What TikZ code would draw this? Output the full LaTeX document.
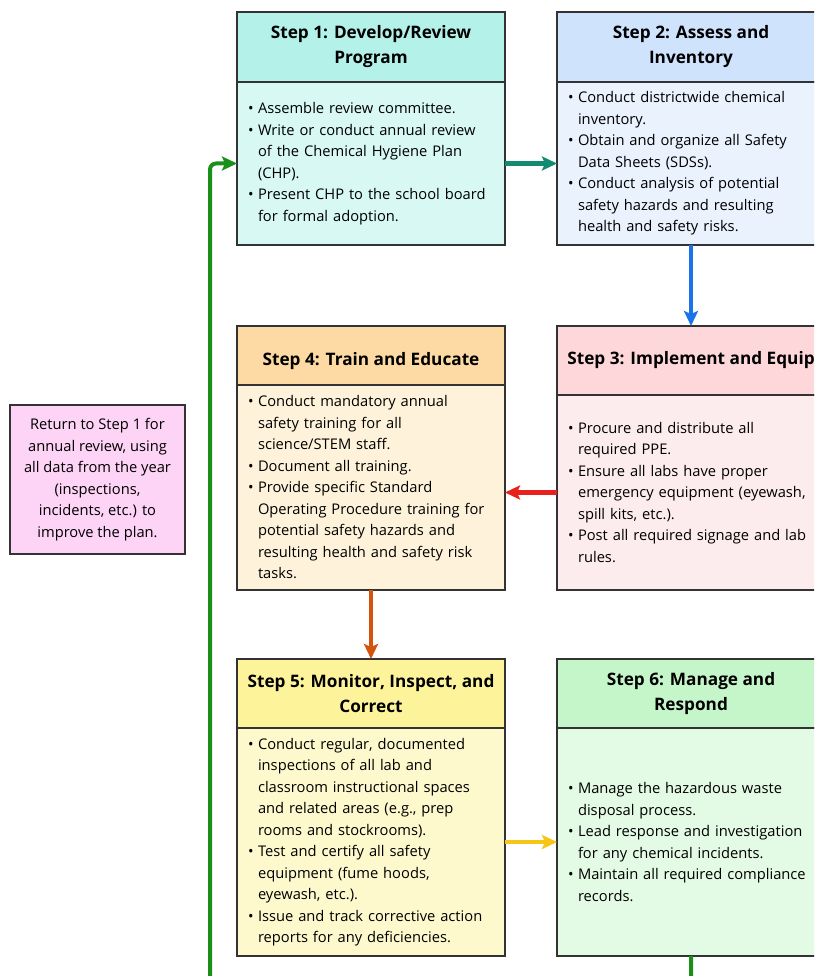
\documentclass[tikz,border=0pt]{standalone}
\usepackage{fontspec}
\setmainfont{Open Sans}
\usetikzlibrary{arrows.meta,positioning}

\definecolor{edge}{HTML}{333333}
\definecolor{hone}{HTML}{B3F1E9}  \definecolor{bone}{HTML}{D7F8F3}
\definecolor{htwo}{HTML}{CFE3FD}  \definecolor{btwo}{HTML}{EAF2FE}
\definecolor{hthree}{HTML}{FDD7D9}\definecolor{bthree}{HTML}{FDECED}
\definecolor{hfour}{HTML}{FDDAA3} \definecolor{bfour}{HTML}{FEF3DA}
\definecolor{hfive}{HTML}{FDF39B} \definecolor{bfive}{HTML}{FDF9CC}
\definecolor{hsix}{HTML}{C5F6CA}  \definecolor{bsix}{HTML}{E3FAE4}
\definecolor{pinkbox}{HTML}{FDD4F6}
\definecolor{teal}{HTML}{138A72}
\definecolor{blueline}{HTML}{1A73E8}
\definecolor{redline}{HTML}{E8211E}
\definecolor{rust}{HTML}{D4540F}
\definecolor{gold}{HTML}{F5C518}
\definecolor{greenline}{HTML}{1A8F1A}

\newcommand{\bu}{\makebox[10pt][l]{\textbullet}}
\newcommand{\nx}{\hspace*{10pt}}

\begin{document}
\begin{tikzpicture}[x=1pt, y=1pt,
  head/.style={draw=edge, line width=1.2pt, outer sep=0pt, minimum width=268pt,
               align=center, font=\fontsize{17.2}{25}\selectfont\bfseries},
  body/.style={draw=edge, line width=1.2pt, outer sep=0pt, text width=246pt,
               inner xsep=11pt, align=left, font=\fontsize{14.7}{21.5}\selectfont},
  link/.style={line width=4pt, -{Stealth[length=15pt,width=14pt,inset=3pt]}}
]
  \fill[white] (0,0) rectangle (814,-976);
  \useasboundingbox (0,0) rectangle (814,-976);
  \clip (0,0) rectangle (814,-976);

  % row 1
  \node[head, fill=hone, minimum height=70pt, anchor=north west] (hd1) at (237,-12)
    {Step 1: Develop/Review\\Program};
  \node[body, fill=bone, minimum height=163pt, below=0pt of hd1] (bd1) {%
    \bu Assemble review committee.\\
    \bu Write or conduct annual review\\
    \nx of the Chemical Hygiene Plan\\
    \nx (CHP).\\
    \bu Present CHP to the school board\\
    \nx for formal adoption.};
  \node[head, fill=htwo, minimum height=70pt, anchor=north west] (hd2) at (557,-12)
    {Step 2: Assess and\\Inventory};
  \node[body, fill=btwo, minimum height=163pt, below=0pt of hd2] (bd2) {%
    \bu Conduct districtwide chemical\\
    \nx inventory.\\
    \bu Obtain and organize all Safety\\
    \nx Data Sheets (SDSs).\\
    \bu Conduct analysis of potential\\
    \nx safety hazards and resulting\\
    \nx health and safety risks.};

  % row 2
  \node[head, fill=hfour, minimum height=59pt, anchor=north west] (hd4) at (237,-326)
    {\raisebox{-6pt}[\height][\depth]{Step 4: Train and Educate}};
  \node[body, fill=bfour, minimum height=205pt, below=0pt of hd4] (bd4) {%
    \bu Conduct mandatory annual\\
    \nx safety training for all\\
    \nx science/STEM staff.\\
    \bu Document all training.\\
    \bu Provide specific Standard\\
    \nx Operating Procedure training for\\
    \nx potential safety hazards and\\
    \nx resulting health and safety risk\\
    \nx tasks.};
  \node[head, fill=hthree, minimum height=69pt, anchor=north west] (hd3) at (557,-326)
    {Step 3: Implement and Equip};
  \node[body, fill=bthree, minimum height=195pt, below=0pt of hd3] (bd3) {%
    \bu Procure and distribute all\\
    \nx required PPE.\\
    \bu Ensure all labs have proper\\
    \nx emergency equipment (eyewash,\\
    \nx spill kits, etc.).\\
    \bu Post all required signage and lab\\
    \nx rules.};

  % row 3
  \node[head, fill=hfive, minimum height=69pt, anchor=north west] (hd5) at (237,-659)
    {Step 5: Monitor, Inspect, and\\Correct};
  \node[body, fill=bfive, minimum height=228pt, below=0pt of hd5] (bd5) {%
    \bu Conduct regular, documented\\
    \nx inspections of all lab and\\
    \nx classroom instructional spaces\\
    \nx and related areas (e.g., prep\\
    \nx rooms and stockrooms).\\
    \bu Test and certify all safety\\
    \nx equipment (fume hoods,\\
    \nx eyewash, etc.).\\
    \bu Issue and track corrective action\\
    \nx reports for any deficiencies.};
  \node[head, fill=hsix, minimum height=69pt, anchor=north west] (hd6) at (557,-659)
    {Step 6: Manage and\\Respond};
  \node[body, fill=bsix, minimum height=228pt, below=0pt of hd6] (bd6) {%
    \bu Manage the hazardous waste\\
    \nx disposal process.\\
    \bu Lead response and investigation\\
    \nx for any chemical incidents.\\
    \bu Maintain all required compliance\\
    \nx records.};

  % return note
  \node[draw=edge, line width=1.2pt, fill=pinkbox, minimum width=175pt, minimum height=149pt,
        align=center, font=\fontsize{14.7}{21.5}\selectfont] (ret) at (97.5,-479.5)
    {Return to Step 1 for\\annual review, using\\all data from the year\\(inspections,\\incidents, etc.) to\\improve the plan.};

  % connectors
  \draw[link, teal, line width=5pt] (bd1.east) -- (bd2.west);
  \draw[link, blueline] (bd2.south) -- (hd3.north);
  \draw[link, redline, line width=5pt] (bd3.west) -- (bd3.west -| bd4.east);
  \draw[link, rust] (bd4.south) -- (hd5.north);
  \draw[link, gold] (bd5.east) -- (bd5.east -| bd6.west);
  \coordinate (loop) at (210,-1000);
  \draw[link, greenline, rounded corners=6pt] (bd6.south) |- (loop) |- (bd1.west);
\end{tikzpicture}
\end{document}
